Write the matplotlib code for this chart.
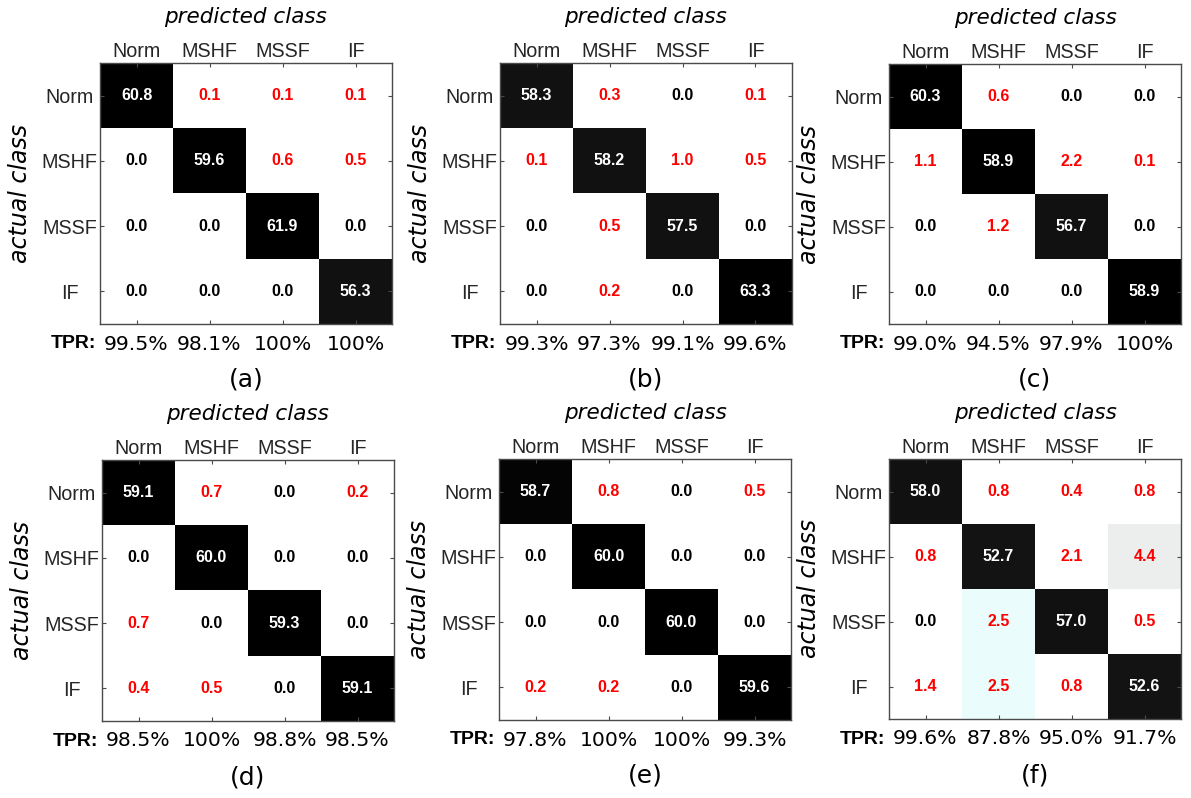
import numpy as np
import matplotlib
matplotlib.use("Agg")
import matplotlib.pyplot as plt
from matplotlib import font_manager
from matplotlib.colors import LinearSegmentedColormap, Normalize

classes = ["Norm", "MSHF", "MSSF", "IF"]
panel_tags = ["(a)", "(b)", "(c)", "(d)", "(e)", "(f)"]

# Confusion matrices (rows: actual class, columns: predicted class), in %
conf_a = [[60.8, 0.1, 0.1, 0.1],
          [0.0, 59.6, 0.6, 0.5],
          [0.0, 0.0, 61.9, 0.0],
          [0.0, 0.0, 0.0, 56.3]]
conf_b = [[58.3, 0.3, 0.0, 0.1],
          [0.1, 58.2, 1.0, 0.5],
          [0.0, 0.5, 57.5, 0.0],
          [0.0, 0.2, 0.0, 63.3]]
conf_c = [[60.3, 0.6, 0.0, 0.0],
          [1.1, 58.9, 2.2, 0.1],
          [0.0, 1.2, 56.7, 0.0],
          [0.0, 0.0, 0.0, 58.9]]
conf_d = [[59.1, 0.7, 0.0, 0.2],
          [0.0, 60.0, 0.0, 0.0],
          [0.7, 0.0, 59.3, 0.0],
          [0.4, 0.5, 0.0, 59.1]]
conf_e = [[58.7, 0.8, 0.0, 0.5],
          [0.0, 60.0, 0.0, 0.0],
          [0.0, 0.0, 60.0, 0.0],
          [0.2, 0.2, 0.0, 59.6]]
conf_f = [[58.0, 0.8, 0.4, 0.8],
          [0.8, 52.7, 2.1, 4.4],
          [0.0, 2.5, 57.0, 0.5],
          [1.4, 2.5, 0.8, 52.6]]

# True positive rate per predicted class, in %
tpr_a = [99.5, 98.1, 100.0, 100.0]
tpr_b = [99.3, 97.3, 99.1, 99.6]
tpr_c = [99.0, 94.5, 97.9, 100.0]
tpr_d = [98.5, 100.0, 98.8, 98.5]
tpr_e = [97.8, 100.0, 100.0, 99.3]
tpr_f = [99.6, 87.8, 95.0, 91.7]

matrices = [conf_a, conf_b, conf_c, conf_d, conf_e, conf_f]
tprs = [tpr_a, tpr_b, tpr_c, tpr_d, tpr_e, tpr_f]

# Colour scale: white for small values, pale tints for a few %, black for large
VMAX = 64.0
nodes = [(0.0, "#ffffff"), (2.3, "#ffffff"), (2.5, "#eafdfd"), (4.4, "#ededed"),
         (50.0, "#141414"), (58.5, "#111111"), (58.8, "#000000"), (VMAX, "#000000")]
cmap = LinearSegmentedColormap.from_list("cm", [(v / VMAX, c) for v, c in nodes])
norm = Normalize(vmin=0.0, vmax=VMAX)

# condensed face for the cell numbers when available
installed = {f.name for f in font_manager.fontManager.ttflist}
if "Liberation Sans Narrow" in installed:
    cell_font, cell_size = "Liberation Sans Narrow", 13.0
else:
    cell_font, cell_size = "Liberation Sans", 11.5

W, H = 1191, 798
fig = plt.figure(figsize=(W / 100, H / 100), dpi=100)

# axes boxes in pixels: left, top, right, bottom
boxes = [(100, 63, 392, 324), (500, 63, 792, 324), (889, 64, 1181, 324),
         (102, 460, 394, 721), (499, 459, 791, 720), (889, 459, 1181, 719)]

frame_col = "#4a4a4a"
label_col = "#262626"

for k, (mat, tpr, tag, box) in enumerate(zip(matrices, tprs, panel_tags, boxes)):
    l, t, r, b = box
    ax = fig.add_axes([l / W, 1 - b / H, (r - l) / W, (b - t) / H])
    data = np.array(mat)
    ax.imshow(data, cmap=cmap, norm=norm, aspect="auto", interpolation="nearest")
    n = data.shape[0]
    for i in range(n):
        for j in range(n):
            v = data[i, j]
            if i == j:
                col = "white"
            elif v > 0:
                col = "#ff0000"
            else:
                col = "black"
            ax.text(j, i, f"{v:.1f}", ha="center", va="center", color=col,
                    fontsize=cell_size, fontweight="bold", family=cell_font)

    ax.set_xticks(range(n))
    ax.set_yticks(range(n))
    ax.set_xticklabels(classes, fontsize=14.2, family="Liberation Sans", color=label_col)
    ax.set_yticklabels(classes, fontsize=14.2, family="Liberation Sans", color=label_col,
                       ha="center")
    ax.tick_params(axis="x", top=True, bottom=True, labeltop=True, labelbottom=False,
                   direction="in", length=3, width=0.8, color=frame_col, pad=1.5)
    ax.tick_params(axis="y", left=True, right=True, direction="in", length=3,
                   width=0.8, color=frame_col, pad=22)
    for s in ax.spines.values():
        s.set_color(frame_col)
        s.set_linewidth(1.0)

    ax.text(0.5, 1.176, "predicted class", transform=ax.transAxes, ha="center",
            va="center", fontsize=15.5, style="italic", family="DejaVu Sans")
    ax.text(-0.274, 0.5, "actual class", transform=ax.transAxes, ha="center",
            va="center", rotation=90, fontsize=17, style="italic", family="DejaVu Sans")

    ytxt = -20.0 / (b - t)
    ax.text(-4.0 / (r - l), ytxt, "TPR:", transform=ax.transAxes, ha="right",
            va="center", fontsize=14, fontweight="bold", family="Liberation Sans")
    for j, v in enumerate(tpr):
        s = "100%" if v >= 100 else f"{v:.1f}%"
        ax.text((j + 0.5) / n, ytxt, s, transform=ax.transAxes, ha="center",
                va="center", fontsize=14.7, family="DejaVu Sans")
    ax.text(0.5, -56.0 / (b - t), tag, transform=ax.transAxes, ha="center",
            va="center", fontsize=18, family="DejaVu Sans")

fig.savefig("out.png", dpi=100, facecolor="white")
